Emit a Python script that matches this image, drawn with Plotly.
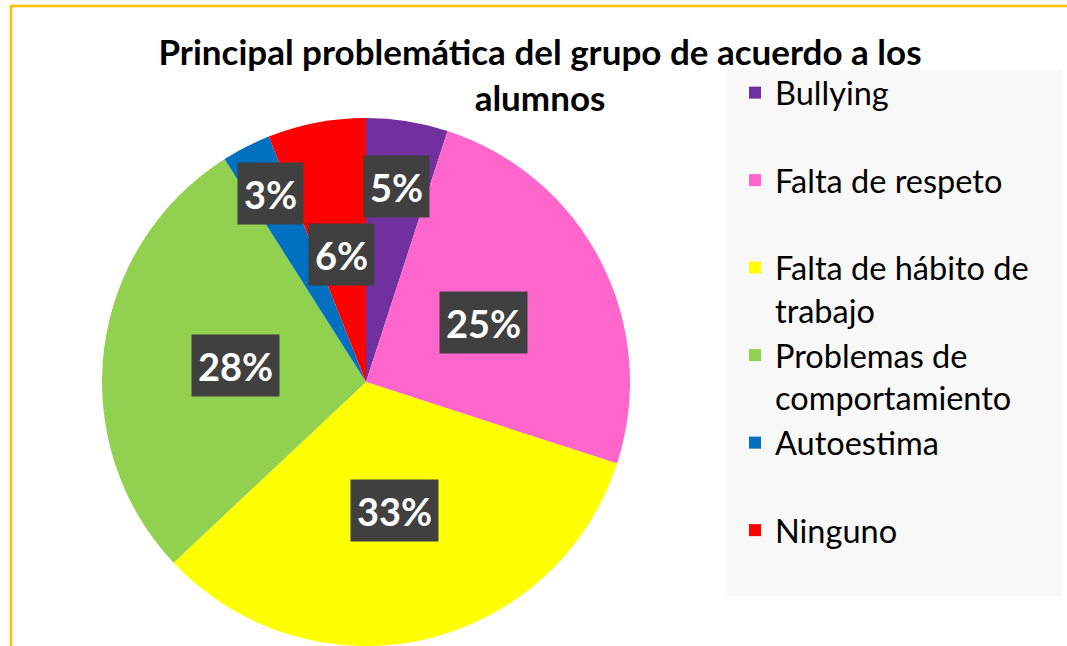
import math
import plotly.graph_objects as go

# ---- data ----
categories = ["Bullying", "Falta de respeto", "Falta de hábito de<br>trabajo",
              "Problemas de<br>comportamiento", "Autoestima", "Ninguno"]
values = [5, 25, 33, 28, 3, 6]
label_text = [f"{v}%" for v in values]
colors = ["#7030A0", "#FF66CC", "#FFFF00", "#92D050", "#0070C0", "#FF0000"]
title_text = "Principal problemática del grupo de acuerdo a los<br>alumnos"

# ---- layout constants ----
W, H = 1067, 646
R_PX = 264
CX_PX, CY_PX = 366, 382          # pie centre in pixels (from top-left)
radial = [0.75, 0.5, 0.5, 0.5, 0.8, 0.49]   # label placement factors
FONT = "Lato"

dom_x = [(CX_PX - R_PX) / W, (CX_PX + R_PX) / W]
dom_y = [(H - CY_PX - R_PX) / H, (H - CY_PX + R_PX) / H]

legend_names = [c if "<br>" in c else c + "<br> " for c in categories]

fig = go.Figure()
fig.add_trace(go.Pie(
    labels=legend_names,
    values=values,
    sort=False,
    direction="clockwise",
    rotation=0,
    marker=dict(colors=colors, line=dict(width=0)),
    textinfo="none",
    hoverinfo="label+percent",
    domain=dict(x=dom_x, y=dom_y),
))

# data labels placed at slice mid-angles
total = sum(values)
cum = 0
annotations = []
cx = CX_PX / W
cy = (H - CY_PX) / H
for v, txt, f in zip(values, label_text, radial):
    mid = (cum + v / 2) / total * 2 * math.pi
    cum += v
    x = cx + f * R_PX * math.sin(mid) / W
    y = cy + f * R_PX * math.cos(mid) / H
    annotations.append(dict(x=x, y=y, xref="paper", yref="paper",
                            xanchor="center", yanchor="middle",
                            text=f"<b>{txt}</b>", showarrow=False,
                            font=dict(family=FONT, size=38, color="white"),
                            bgcolor="#404040", borderpad=6, height=49))

shapes = [
    # chart-area frame
    dict(type="rect", xref="paper", yref="paper", x0=11 / W, x1=1.01, y0=-0.01,
         y1=(H - 6) / H, line=dict(color="#FFC000", width=2.5), layer="below"),
    # legend background
    dict(type="rect", xref="paper", yref="paper", x0=727 / W, x1=1062 / W,
         y0=(H - 596) / H, y1=(H - 70) / H, fillcolor="#F8F8F8",
         line=dict(width=0), layer="below"),
]

fig.update_layout(
    width=W, height=H,
    margin=dict(l=0, r=0, t=0, b=0),
    paper_bgcolor="white",
    title=dict(text=f"<b>{title_text}</b>", x=540 / W, xanchor="center",
               y=(H - 65) / H, yanchor="top",
               font=dict(family=FONT, size=35, color="black")),
    showlegend=True,
    legend=dict(x=735 / W, y=(H - 65) / H, xanchor="left", yanchor="top",
                bgcolor="rgba(0,0,0,0)", valign="top",
                font=dict(family=FONT, size=32.5, color="black"),
                traceorder="normal"),
    annotations=annotations,
    shapes=shapes,
)

fig.write_html("out.html", config={"displayModeBar": False},
               post_script="document.body.style.margin='0';")
